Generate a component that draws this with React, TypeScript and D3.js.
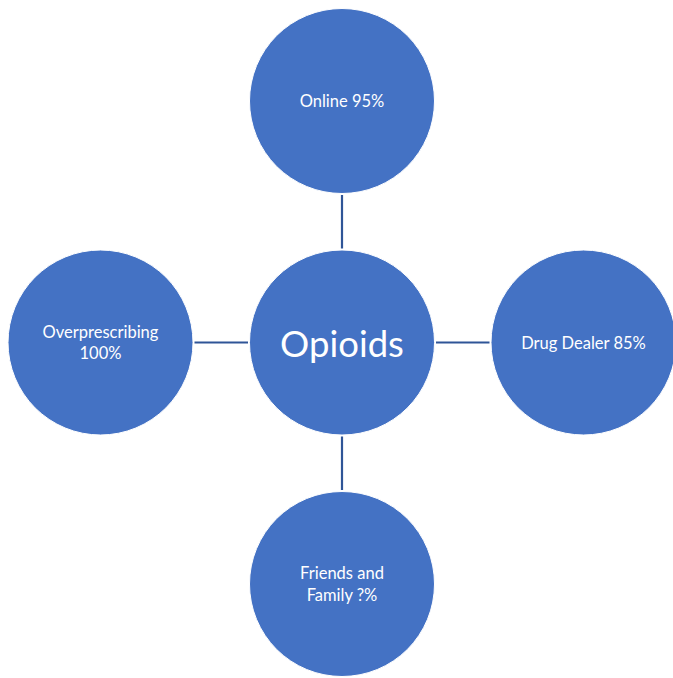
import React from "react";
import * as d3 from "d3";

const centerLabel = "Opioids";
const nodeLabels: string[][] = [
  ["Online 95%"],
  ["Drug Dealer 85%"],
  ["Friends and", "Family ?%"],
  ["Overprescribing", "100%"],
];
const nodeAngles = [-90, 0, 90, 180];

const W = 673;
const H = 678;
const CX = 342;
const CY = 342.5;
const R = 92.5;
const DIST = 241.5;
const FILL = "#4472C4";
const LINE = "#2F5597";
const FONT = "Lato, 'Noto Sans', sans-serif";

export default function App() {
  const rad = d3.scaleLinear().domain([0, 360]).range([0, 2 * Math.PI]);
  const nodes = nodeLabels.map((lines, i) => {
    const a = rad(nodeAngles[i]);
    return { lines, x: CX + DIST * Math.cos(a), y: CY + DIST * Math.sin(a), a };
  });
  const lineH = 21.5;
  return (
    <svg
      width={W}
      height={H}
      style={{ position: "absolute", left: 0, top: 0, background: "#fff" }}
    >
      {nodes.map((n, i) => (
        <line
          key={"l" + i}
          x1={CX + (R + 1.5) * Math.cos(n.a)}
          y1={CY + (R + 1.5) * Math.sin(n.a)}
          x2={n.x - (R + 1.5) * Math.cos(n.a)}
          y2={n.y - (R + 1.5) * Math.sin(n.a)}
          stroke={LINE}
          strokeWidth={2.2}
        />
      ))}
      <circle cx={CX} cy={CY} r={R} fill={FILL} stroke="#fff" strokeWidth={1} />
      <text
        x={CX}
        y={CY}
        textAnchor="middle"
        dominantBaseline="central"
        fill="#fff"
        fontFamily={FONT}
        fontSize={36.5}
      >
        {centerLabel}
      </text>
      {nodes.map((n, i) => (
        <g key={"n" + i}>
          <circle cx={n.x} cy={n.y} r={R} fill={FILL} stroke="#fff" strokeWidth={1} />
          {n.lines.map((t, j) => (
            <text
              key={j}
              x={n.x}
              y={n.y + (j - (n.lines.length - 1) / 2) * lineH}
              textAnchor="middle"
              dominantBaseline="central"
              fill="#fff"
              fontFamily={FONT}
              fontSize={16.5}
            >
              {t}
            </text>
          ))}
        </g>
      ))}
    </svg>
  );
}
